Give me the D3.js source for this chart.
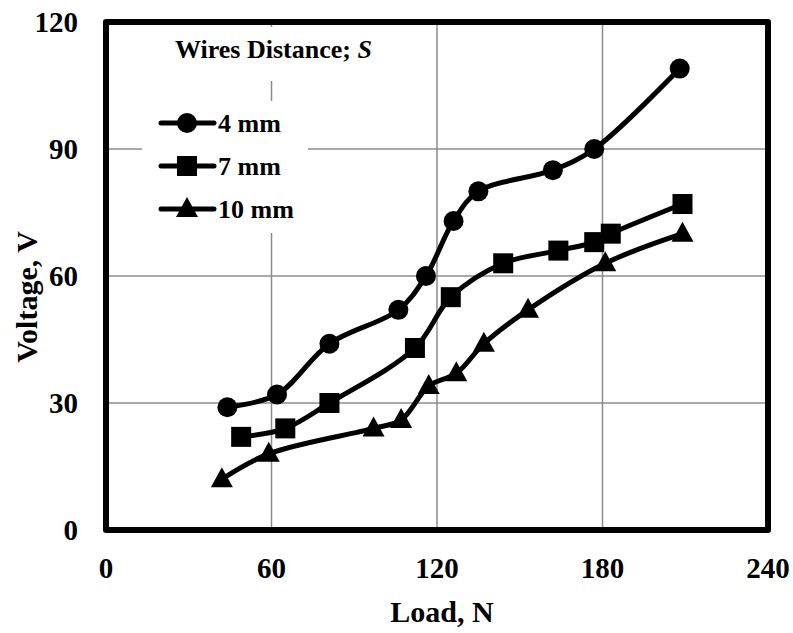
<!DOCTYPE html>
<html>
<head>
<meta charset="utf-8">
<script src="https://cdn.jsdelivr.net/npm/d3@7"></script>
<style>
  body { margin: 0; background: #fff; }
  svg text { font-family: "Liberation Serif", "Times New Roman", serif; font-weight: bold; fill: #000; }
</style>
</head>
<body>
<div id="chart"></div>
<script>
//Datos
const seriesNames = ['4 mm', '7 mm', '10 mm'];
const markerTypes = ['circle', 'square', 'triangle'];

const load4 = [44, 62, 81, 106, 116, 126, 135, 162, 177, 208];
const volt4 = [29, 32, 44, 52, 60, 73, 80, 85, 90, 109];

const load7 = [49, 65, 81, 112, 125, 144, 164, 177, 183, 209];
const volt7 = [22, 24, 30, 43, 55, 63, 66, 68, 70, 77];

const load10 = [42, 59, 97, 107, 117, 127, 137, 153, 181, 209];
const volt10 = [12, 18, 24, 26, 34, 37, 44, 52, 63, 70];

const xTicks = [0, 60, 120, 180, 240];
const yTicks = [0, 30, 60, 90, 120];

const series = [
    { name: seriesNames[0], marker: markerTypes[0], pts: load4.map((d, i) => ({ x: d, y: volt4[i] })) },
    { name: seriesNames[1], marker: markerTypes[1], pts: load7.map((d, i) => ({ x: d, y: volt7[i] })) },
    { name: seriesNames[2], marker: markerTypes[2], pts: load10.map((d, i) => ({ x: d, y: volt10[i] })) }
];

let W = 793, H = 633;
let margin = { top: 22, right: 25, bottom: 103, left: 106 };

let svg = d3.select('#chart')
    .append('svg')
    .attr('width', W)
    .attr('height', H);

let x = d3.scaleLinear().domain([0, 240]).range([margin.left, W - margin.right]);
let y = d3.scaleLinear().domain([0, 120]).range([H - margin.bottom, margin.top]);

//Rejilla
svg.append('g')
    .selectAll('line.gx')
    .data(xTicks.slice(1, -1))
    .enter().append('line')
    .attr('x1', d => x(d)).attr('x2', d => x(d))
    .attr('y1', y(0)).attr('y2', y(120))
    .attr('stroke', '#8c8c8c').attr('stroke-width', 1.5);

svg.append('g')
    .selectAll('line.gy')
    .data(yTicks.slice(1, -1))
    .enter().append('line')
    .attr('x1', x(0)).attr('x2', x(240))
    .attr('y1', d => y(d)).attr('y2', d => y(d))
    .attr('stroke', '#8c8c8c').attr('stroke-width', 1.5);

//Fondo de la leyenda (tapa la rejilla)
svg.append('rect').attr('x', 160).attr('y', 27).attr('width', 228).attr('height', 54).attr('fill', '#fff');
svg.append('rect').attr('x', 142).attr('y', 101).attr('width', 166).attr('height', 132).attr('fill', '#fff');

//Ejes: etiquetas
svg.append('g')
    .selectAll('text')
    .data(xTicks)
    .enter().append('text')
    .attr('x', d => x(d))
    .attr('y', 578)
    .attr('text-anchor', 'middle')
    .style('font-size', '29px')
    .text(d => d);

svg.append('g')
    .selectAll('text')
    .data(yTicks)
    .enter().append('text')
    .attr('x', 78)
    .attr('y', d => y(d) + 10)
    .attr('text-anchor', 'end')
    .style('font-size', '29px')
    .text(d => d);

svg.append('text')
    .attr('x', 442).attr('y', 622)
    .attr('text-anchor', 'middle')
    .style('font-size', '30px')
    .text('Load, N');

svg.append('text')
    .attr('transform', 'translate(37,297) rotate(-90)')
    .attr('text-anchor', 'middle')
    .style('font-size', '30px')
    .text('Voltage, V');

//Lineas
let line = d3.line()
    .x(d => x(d.x))
    .y(d => y(d.y))
    .curve(d3.curveCatmullRom.alpha(0.5));

function drawMarker(g, type, cx, cy) {
    if (type == 'circle') {
        g.append('circle').attr('cx', cx).attr('cy', cy).attr('r', 10).attr('fill', '#000');
    } else if (type == 'square') {
        g.append('rect').attr('x', cx - 10).attr('y', cy - 10).attr('width', 20).attr('height', 20).attr('fill', '#000');
    } else {
        g.append('path')
            .attr('d', `M${cx},${cy - 12}L${cx + 11},${cy + 8}L${cx - 11},${cy + 8}Z`)
            .attr('fill', '#000');
    }
}

series.forEach(function(s) {
    svg.append('path')
        .datum(s.pts)
        .attr('d', line)
        .attr('fill', 'none')
        .attr('stroke', '#000')
        .attr('stroke-width', 5)
        .attr('stroke-linecap', 'round');
    let g = svg.append('g');
    s.pts.forEach(function(p) {
        drawMarker(g, s.marker, x(p.x), y(p.y));
    });
});

//Marco
svg.append('rect')
    .attr('x', x(0)).attr('y', y(120))
    .attr('width', x(240) - x(0)).attr('height', y(0) - y(120))
    .attr('fill', 'none')
    .attr('stroke', '#000')
    .attr('stroke-width', 6)
    .attr('stroke-linejoin', 'round');

//Leyenda
let title = svg.append('text')
    .attr('x', 175).attr('y', 58)
    .style('font-size', '26px');
title.append('tspan').text('Wires Distance; ');
title.append('tspan').style('font-style', 'italic').text('S');

series.forEach(function(s, i) {
    let ly = 123 + i * 43;
    let g = svg.append('g');
    g.append('line')
        .attr('x1', 161).attr('x2', 214)
        .attr('y1', ly).attr('y2', ly)
        .attr('stroke', '#000').attr('stroke-width', 5)
        .attr('stroke-linecap', 'round');
    drawMarker(g, s.marker, 187, ly);
    g.append('text')
        .attr('x', 218).attr('y', ly + 9)
        .style('font-size', '26px')
        .text(s.name);
});
</script>
</body>
</html>
